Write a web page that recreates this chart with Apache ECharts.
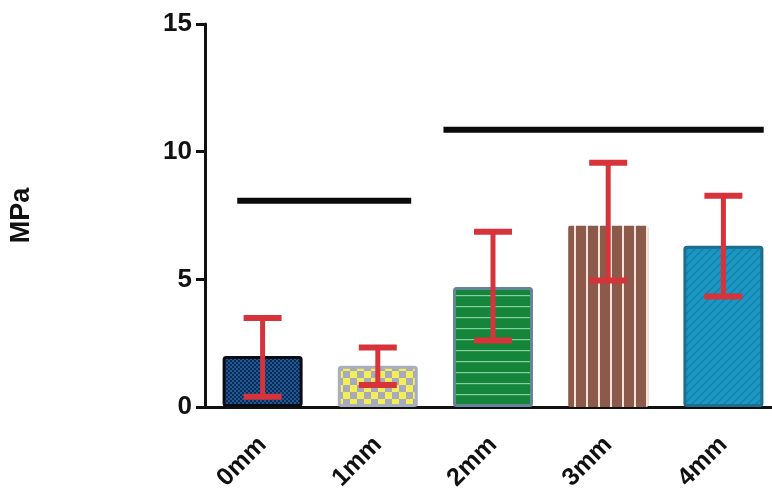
<!DOCTYPE html>
<html>
<head>
<meta charset="utf-8">
<script src="https://cdn.jsdelivr.net/npm/echarts@6/dist/echarts.min.js"></script>
<style>
html,body{margin:0;padding:0;background:#fff;}
#chart{width:772px;height:495px;}
</style>
</head>
<body>
<div id="chart"></div>
<script>
// ---- data ----
const categories = ['0mm', '1mm', '2mm', '3mm', '4mm'];
const means = [2.0, 1.62, 4.7, 7.1, 6.32];
const errLow = [0.4, 0.86, 2.6, 4.95, 4.33];
const errHigh = [3.49, 2.33, 6.86, 9.57, 8.27];
// significance bars: start / end (in category units) and height
const sigFrom = [-0.22, 1.57];
const sigTo = [1.29, 4.35];
const sigY = [8.08, 10.86];
const yMin = 0, yMax = 15, yInterval = 5;
const yAxisTitle = 'MPa';

// ---- patterns ----
function makePattern(w, h, draw) {
  const c = document.createElement('canvas');
  c.width = w; c.height = h;
  draw(c.getContext('2d'), w, h);
  return { image: c, repeat: 'repeat' };
}
const patterns = [
  makePattern(4, 4, (g, w, h) => {
    g.fillStyle = '#0d2a55'; g.fillRect(0, 0, w, h);
    g.fillStyle = '#1d5a96'; g.fillRect(0, 0, 2, 2); g.fillRect(2, 2, 2, 2);
  }),
  makePattern(14, 14, (g, w, h) => {
    g.fillStyle = '#f2ee58'; g.fillRect(0, 0, w, h);
    g.fillStyle = '#a9a9bd'; g.fillRect(0, 0, 7, 7); g.fillRect(7, 7, 7, 7);
  }),
  makePattern(8, 11, (g, w, h) => {
    g.fillStyle = '#14853a'; g.fillRect(0, 0, w, h);
    g.fillStyle = '#86cfa0'; g.fillRect(0, 9, w, 1.2);
  }),
  makePattern(12, 8, (g, w, h) => {
    g.fillStyle = '#8c5a4b'; g.fillRect(0, 0, w, h);
    g.fillStyle = '#f6e2d6'; g.fillRect(10, 0, 2, h);
  }),
  makePattern(8, 8, (g, w, h) => {
    g.fillStyle = '#1b97c3'; g.fillRect(0, 0, w, h);
    g.strokeStyle = '#1580aa'; g.lineWidth = 1.5;
    g.beginPath();
    g.moveTo(0, 8); g.lineTo(8, 0);
    g.moveTo(-4, 4); g.lineTo(4, -4);
    g.moveTo(4, 12); g.lineTo(12, 4);
    g.stroke();
  })
];
const borders = ['#0b0b14', '#a9aebf', '#66859a', '#8c5a4b', '#1d6d8c'];
const borderWidths = [3, 3, 3, 0, 3];

const FONT = '"Liberation Sans", Arial, Helvetica, sans-serif';

const chart = echarts.init(document.getElementById('chart'), null, { renderer: 'canvas' });

const barData = means.map((v, i) => ({
  value: v,
  itemStyle: {
    color: patterns[i],
    borderColor: borders[i],
    borderWidth: borderWidths[i],
    borderRadius: 2
  }
}));

const errData = categories.map((c, i) => [i, errLow[i], errHigh[i]]);
const sigData = sigY.map((y, i) => [sigFrom[i], sigTo[i], y]);

chart.setOption({
  animation: false,
  backgroundColor: '#ffffff',
  grid: { left: 205, right: -9, top: 24, bottom: 88, containLabel: false, outerBoundsMode: 'none' },
  xAxis: {
    type: 'category',
    data: categories,
    axisLine: { lineStyle: { color: '#111', width: 3 } },
    axisTick: { alignWithLabel: true, length: 9, lineStyle: { color: '#111', width: 3 } },
    axisLabel: {
      rotate: 45, margin: 34, color: '#111',
      fontFamily: FONT, fontWeight: 'bold', fontSize: 25
    },
    splitLine: { show: false }
  },
  yAxis: {
    type: 'value',
    min: yMin, max: yMax, interval: yInterval,
    name: yAxisTitle,
    nameLocation: 'middle',
    nameRotate: 90,
    nameGap: 170,
    nameTextStyle: { color: '#111', fontFamily: FONT, fontWeight: 'bold', fontSize: 27 },
    axisLine: { show: true, lineStyle: { color: '#111', width: 3 } },
    axisTick: { show: true, length: 9, lineStyle: { color: '#111', width: 3 } },
    axisLabel: { margin: 13, color: '#111', fontFamily: FONT, fontWeight: 'bold', fontSize: 26 },
    splitLine: { show: false }
  },
  series: [
    {
      type: 'bar',
      data: barData,
      barWidth: 80,
      z: 2
    },
    {
      type: 'custom',
      z: 5,
      data: errData,
      renderItem: function (params, api) {
        const i = api.value(0);
        const lo = api.coord([i, api.value(1)]);
        const hi = api.coord([i, api.value(2)]);
        const half = 19;
        const st = { stroke: '#d6333b', lineWidth: 5 };
        const cap = { stroke: '#d6333b', lineWidth: 6 };
        return {
          type: 'group',
          children: [
            { type: 'line', shape: { x1: lo[0], y1: lo[1], x2: hi[0], y2: hi[1] }, style: st },
            { type: 'line', shape: { x1: hi[0] - half, y1: hi[1], x2: hi[0] + half, y2: hi[1] }, style: cap },
            { type: 'line', shape: { x1: lo[0] - half, y1: lo[1], x2: lo[0] + half, y2: lo[1] }, style: cap }
          ]
        };
      }
    },
    {
      type: 'custom',
      z: 6,
      data: sigData,
      renderItem: function (params, api) {
        const p0 = api.coord([0, api.value(2)]);
        const band = api.size([1, 0])[0];
        const x1 = p0[0] + api.value(0) * band;
        const x2 = p0[0] + api.value(1) * band;
        return {
          type: 'line',
          shape: { x1: x1, y1: p0[1], x2: x2, y2: p0[1] },
          style: { stroke: '#0a0a0a', lineWidth: 6 }
        };
      }
    }
  ]
});
</script>
</body>
</html>
